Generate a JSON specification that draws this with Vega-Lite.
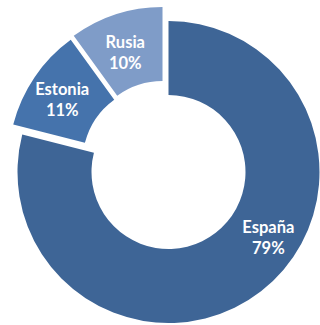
{
  "$schema": "https://vega.github.io/schema/vega-lite/v6.json",
  "width": 337,
  "height": 344,
  "padding": 0,
  "background": "white",
  "view": {"stroke": null},
  "data": {"values": [
    {"pais": "España", "pct": 79},
    {"pais": "Estonia", "pct": 11},
    {"pais": "Rusia", "pct": 10}
  ]},
  "transform": [
    {"calculate": "[datum.pais, datum.pct + '%']", "as": "etiqueta"}
  ],
  "encoding": {
    "theta": {"field": "pct", "type": "quantitative", "stack": true},
    "order": {"field": "pais", "type": "ordinal", "sort": "ascending"}
  },
  "layer": [
    {
      "mark": {"type": "arc", "innerRadius": 77, "outerRadius": 151},
      "encoding": {
        "color": {"field": "pais", "type": "nominal", "legend": null,
          "scale": {"domain": ["España", "Estonia", "Rusia"], "range": ["#3E6596", "#4573AC", "#7F9CC8"]}},
        "opacity": {"condition": {"test": "datum.pais === 'España'", "value": 1}, "value": 0}
      }
    },
    {
      "mark": {"type": "arc", "innerRadius": 77, "outerRadius": 151, "xOffset": -9, "yOffset": -10},
      "encoding": {
        "color": {"field": "pais", "type": "nominal", "legend": null},
        "opacity": {"condition": {"test": "datum.pais === 'Estonia'", "value": 1}, "value": 0}
      }
    },
    {
      "mark": {"type": "arc", "innerRadius": 77, "outerRadius": 151, "xOffset": -6, "yOffset": -14},
      "encoding": {
        "color": {"field": "pais", "type": "nominal", "legend": null},
        "opacity": {"condition": {"test": "datum.pais === 'Rusia'", "value": 1}, "value": 0}
      }
    },
    {
      "mark": {"type": "text", "radius": 114, "font": "Lato", "fontWeight": "bold", "fontSize": 16.5, "color": "white", "lineHeight": 21, "dx": 30, "dy": -34},
      "encoding": {
        "text": {"field": "etiqueta"},
        "opacity": {"condition": {"test": "datum.pais === 'España'", "value": 1}, "value": 0}
      }
    },
    {
      "mark": {"type": "text", "radius": 114, "font": "Lato", "fontWeight": "bold", "fontSize": 16.5, "color": "white", "lineHeight": 21, "dx": -12, "dy": -18},
      "encoding": {
        "text": {"field": "etiqueta"},
        "opacity": {"condition": {"test": "datum.pais === 'Estonia'", "value": 1}, "value": 0}
      }
    },
    {
      "mark": {"type": "text", "radius": 114, "font": "Lato", "fontWeight": "bold", "fontSize": 16.5, "color": "white", "lineHeight": 21, "dx": -8, "dy": -21},
      "encoding": {
        "text": {"field": "etiqueta"},
        "opacity": {"condition": {"test": "datum.pais === 'Rusia'", "value": 1}, "value": 0}
      }
    }
  ]
}
